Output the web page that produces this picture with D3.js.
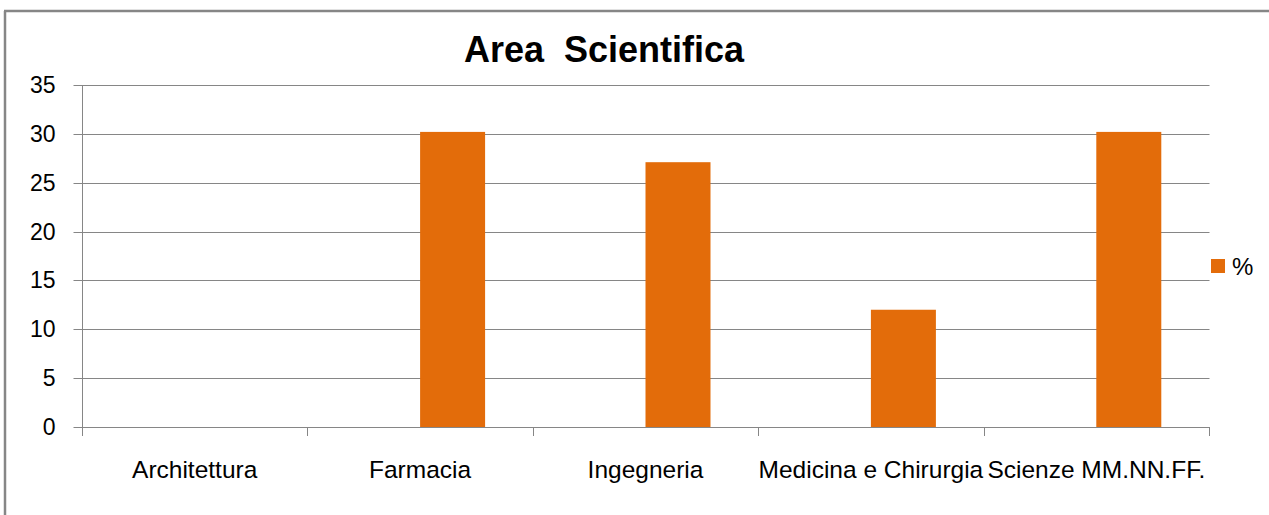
<!DOCTYPE html>
<html>
<head>
<meta charset="utf-8">
<script src="https://cdn.jsdelivr.net/npm/d3@7"></script>
<style>
  html, body { margin: 0; padding: 0; background: #fff; }
  svg { display: block; }
</style>
</head>
<body>
<svg id="chart" width="1269" height="515"></svg>
<script>
const title = "Area  Scientifica";
const categories = ["Architettura", "Farmacia", "Ingegneria", "Medicina e Chirurgia", "Scienze MM.NN.FF."];
const seriesNames = ["", "%"];           // first series is empty in the source chart
const valuesEmpty = [null, null, null, null, null];
const valuesPct = [0, 30.2, 27.1, 12.0, 30.2];
const yTicks = [0, 5, 10, 15, 20, 25, 30, 35];

(function () {
const svg = d3.select("#chart");
const W = 1269, H = 515;
const mLeft = 82, mRight = 1209, mTop = 85, mBottom = 427;
const grid = "#868686";
const barColor = "#E36C0A";
const font = "'Liberation Sans', Arial, sans-serif";

// outer frame (left and top edges visible)
svg.append("line").attr("x1", 5).attr("x2", 5).attr("y1", 11).attr("y2", H)
  .attr("stroke", grid).attr("stroke-width", 2.5);
svg.append("line").attr("x1", 4).attr("x2", W).attr("y1", 11).attr("y2", 11)
  .attr("stroke", grid).attr("stroke-width", 2.5);

const x0 = d3.scaleBand().domain(categories).range([mLeft, mRight]).padding(0);
const x1 = d3.scaleBand().domain(seriesNames).range([0, x0.bandwidth()]).paddingInner(0).paddingOuter(0.734);
const y = d3.scaleLinear().domain([0, 35]).range([mBottom, mTop]);

// y axis with gridlines
const yAxis = d3.axisLeft(y).tickValues(yTicks).tickSize(-(mRight - mLeft)).tickSizeOuter(0).tickPadding(27);
const gy = svg.append("g").attr("transform", `translate(${mLeft + 0.5},0)`).call(yAxis);
gy.select(".domain").remove();
gy.selectAll(".tick line").attr("stroke", grid).attr("x1", -9).attr("x2", mRight - mLeft);
gy.selectAll(".tick text").attr("font-family", font).attr("font-size", 23).attr("fill", "#000");
gy.selectAll(".tick").attr("transform", d => `translate(0,${Math.round(y(d)) + 0.5})`);

// vertical y-axis line
svg.append("line").attr("x1", mLeft + 0.5).attr("x2", mLeft + 0.5).attr("y1", mTop).attr("y2", mBottom + 9)
  .attr("stroke", grid);

// x axis ticks at band boundaries
const boundaries = categories.map(c => x0(c)).concat([mRight]);
svg.append("g").selectAll("line").data(boundaries).join("line")
  .attr("x1", d => Math.round(d) + 0.5).attr("x2", d => Math.round(d) + 0.5)
  .attr("y1", mBottom).attr("y2", mBottom + 9).attr("stroke", grid);

// category labels
svg.append("g").selectAll("text").data(categories).join("text")
  .attr("x", d => x0(d) + x0.bandwidth() / 2)
  .attr("y", 478)
  .attr("text-anchor", "middle")
  .attr("font-family", font).attr("font-size", 24.5).attr("fill", "#000")
  .text(d => d);

// bars
const seriesData = [valuesEmpty, valuesPct];
seriesNames.forEach((s, si) => {
  svg.append("g").selectAll("rect")
    .data(categories.map((c, i) => ({ c, v: seriesData[si][i] })).filter(d => d.v != null))
    .join("rect")
    .attr("x", d => x0(d.c) + x1(s))
    .attr("width", x1.bandwidth())
    .attr("y", d => y(d.v))
    .attr("height", d => mBottom - y(d.v))
    .attr("fill", barColor);
});

// legend
const lg = svg.append("g").attr("transform", "translate(1211,259)");
lg.append("rect").attr("width", 14).attr("height", 14).attr("fill", barColor);
lg.append("text").attr("x", 21).attr("y", 16).attr("font-family", font).attr("font-size", 24)
  .attr("fill", "#000").text(seriesNames[1]);

// title
svg.append("text").attr("x", 604).attr("y", 62).attr("text-anchor", "middle")
  .attr("font-family", font).attr("font-weight", "bold").attr("font-size", 36)
  .style("white-space", "pre").attr("fill", "#000").text(title);
})();
</script>
</body>
</html>
